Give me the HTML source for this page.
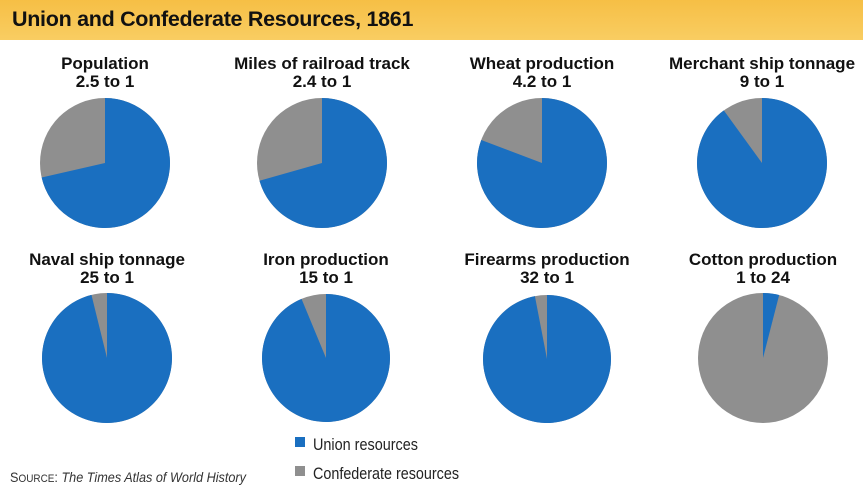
<!DOCTYPE html>
<html><head><meta charset="utf-8"><style>
html,body{margin:0;padding:0;background:#fff}
body{width:863px;height:491px;overflow:hidden;position:relative;font-family:"Liberation Sans",sans-serif}
.hdr{position:absolute;left:0;top:0;width:863px;height:40px;background:linear-gradient(#f6bf45,#f9cd62)}
.hdr span{position:absolute;left:12px;top:7px;font-weight:bold;font-size:21.5px;color:#111;letter-spacing:-0.3px}
</style></head><body>
<div class="hdr"><span>Union and Confederate Resources, 1861</span></div>
<svg id="s" width="863" height="491" style="position:absolute;left:0;top:0">
<g font-family="Liberation Sans, sans-serif" font-weight="bold" font-size="17" fill="#111" text-anchor="middle" id="lbl"></g>
<rect x="295" y="437" width="10" height="10" fill="#1a6fc0"/>
<rect x="295" y="466" width="10" height="10" fill="#8f8f8f"/>
<text x="313" y="450" font-size="17" fill="#222" font-family="Liberation Sans, sans-serif" textLength="105" lengthAdjust="spacingAndGlyphs">Union resources</text>
<text x="313" y="479" font-size="17" fill="#222" font-family="Liberation Sans, sans-serif" textLength="146" lengthAdjust="spacingAndGlyphs">Confederate resources</text>
<text x="10" y="482" font-size="14" fill="#333" font-family="Liberation Sans, sans-serif" textLength="236" lengthAdjust="spacingAndGlyphs">S<tspan font-size="11">OURCE</tspan>: <tspan font-style="italic">The Times Atlas of World History</tspan></text>
</svg>
<script>
var B="#1a6fc0",G="#8f8f8f";
var d=[
["Population","2.5 to 1",105,163,65,2.5/3.5],
["Miles of railroad track","2.4 to 1",322,163,65,2.4/3.4],
["Wheat production","4.2 to 1",542,163,65,4.2/5.2],
["Merchant ship tonnage","9 to 1",762,163,65,0.9],
["Naval ship tonnage","25 to 1",107,358,65,25/26],
["Iron production","15 to 1",326,358,64,15/16],
["Firearms production","32 to 1",547,359,64,32/33],
["Cotton production","1 to 24",763,358,65,1/25]];
var s=document.getElementById('s'),l=document.getElementById('lbl'),h='';
var t='';
d.forEach(function(p){
 var cx=p[2],cy=p[3],r=p[4],f=p[5];
 var a=f*2*Math.PI,x=cx+r*Math.sin(a),y=cy-r*Math.cos(a);
 h+='<circle cx="'+cx+'" cy="'+cy+'" r="'+r+'" fill="'+G+'"/>';
 h+='<path d="M'+cx+','+cy+' L'+cx+','+(cy-r)+' A'+r+','+r+' 0 '+(f>0.5?1:0)+' 1 '+x+','+y+' Z" fill="'+B+'"/>';
 var ly=cy<250?69:265;
 t+='<text x="'+cx+'" y="'+ly+'">'+p[0]+'</text><text x="'+cx+'" y="'+(ly+18)+'">'+p[1]+'</text>';
});
s.insertAdjacentHTML('afterbegin',h);
l.innerHTML=t;
</script>
</body></html>
